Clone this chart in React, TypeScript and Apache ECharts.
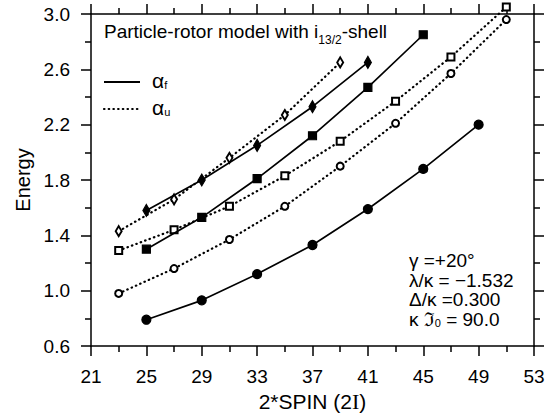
import React, { useEffect, useRef } from "react";
import * as echarts from "echarts";

const xCirclesSolid = [25, 29, 33, 37, 41, 45, 49];
const eCirclesSolid = [0.79, 0.93, 1.12, 1.33, 1.59, 1.88, 2.2];
const xSquaresSolid = [25, 29, 33, 37, 41, 45];
const eSquaresSolid = [1.3, 1.53, 1.81, 2.12, 2.47, 2.85];
const xDiamondsSolid = [25, 29, 33, 37, 41];
const eDiamondsSolid = [1.58, 1.8, 2.05, 2.33, 2.65];
const xDiamondsDotted = [23, 27, 31, 35, 39];
const eDiamondsDotted = [1.43, 1.66, 1.96, 2.27, 2.65];
const xSquaresDotted = [23, 27, 31, 35, 39, 43, 47, 51];
const eSquaresDotted = [1.29, 1.44, 1.61, 1.83, 2.08, 2.37, 2.69, 3.05];
const xCirclesDotted = [23, 27, 31, 35, 39, 43, 47, 51];
const eCirclesDotted = [0.98, 1.16, 1.37, 1.61, 1.9, 2.21, 2.57, 2.96];

const annotations = ["γ =+20°", "λ/κ = −1.532", "Δ/κ =0.300", "κ {f|ℑ}{s|0} = 90.0"];

const FONT = "'Liberation Sans', Arial, Helvetica, sans-serif";
const DOT = [0.5, 4.2];

const zip = (xs: number[], ys: number[]) => xs.map((x, i) => [x, ys[i]]);

export default function App() {
  const ref = useRef<HTMLDivElement>(null);
  useEffect(() => {
    if (!ref.current) return;
    const chart = echarts.init(ref.current, undefined, { renderer: "svg" });
    const solid = { color: "#000", width: 1.7, type: "solid" as const };
    const dotted = { color: "#000", width: 2.2, type: DOT, cap: "round" as const };
    const mk = (
      name: string,
      xs: number[],
      ys: number[],
      symbol: string,
      size: number | number[],
      ls: any,
      z: number
    ) => ({
      name,
      type: "line",
      data: zip(xs, ys),
      symbol,
      symbolSize: size,
      showSymbol: true,
      clip: false,
      z,
      lineStyle: ls,
      itemStyle: { color: "#000", borderColor: "#000", borderWidth: 1.2 },
      emphasis: { disabled: true },
    });
    const baseAxisLine = { show: true, lineStyle: { color: "#000", width: 1.5 } };
    const xCommon = {
      type: "value",
      min: 21,
      max: 53,
      interval: 4,
      axisLine: { ...baseAxisLine, onZero: false },
      axisTick: { show: true, inside: false, length: 10, lineStyle: { color: "#000", width: 1.5 } },
      minorTick: { show: true, splitNumber: 2, length: 6, lineStyle: { color: "#000", width: 1.5 } },
      splitLine: { show: false },
      minorSplitLine: { show: false },
    };
    const yCommon = {
      type: "value",
      min: 0.6,
      max: 3.0,
      interval: 0.4,
      axisLine: { ...baseAxisLine, onZero: false },
      axisTick: { show: true, inside: false, length: 10, lineStyle: { color: "#000", width: 1.5 } },
      minorTick: { show: true, splitNumber: 2, length: 6, lineStyle: { color: "#000", width: 1.5 } },
      splitLine: { show: false },
      minorSplitLine: { show: false },
    };
    chart.setOption({
      animation: false,
      backgroundColor: "#fff",
      grid: { left: 91, right: 25, top: 14, bottom: 74, containLabel: false },
      xAxis: [
        {
          ...xCommon,
          position: "bottom",
          axisLabel: { color: "#000", fontSize: 19, fontFamily: FONT, margin: 21 },
          name: "2*SPIN (2{s|I})",
          nameLocation: "middle",
          nameGap: 42,
          nameTextStyle: {
            color: "#000",
            fontSize: 21,
            fontFamily: FONT,
            rich: { s: { fontFamily: "'Liberation Serif', serif", fontSize: 22, color: "#000" } },
          },
        },
        { ...xCommon, position: "top", axisLabel: { show: false } },
      ],
      yAxis: [
        {
          ...yCommon,
          position: "left",
          axisLabel: {
            color: "#000",
            fontSize: 19,
            fontFamily: FONT,
            margin: 21,
            formatter: (v: number) => v.toFixed(1),
          },
          name: "Energy",
          nameLocation: "middle",
          nameGap: 57,
          nameTextStyle: { color: "#000", fontSize: 20, fontFamily: FONT },
        },
        { ...yCommon, position: "right", axisLabel: { show: false } },
      ],
      series: [
        mk("αf circles", xCirclesSolid, eCirclesSolid, "circle", 9, solid, 3),
        mk("αf squares", xSquaresSolid, eSquaresSolid, "rect", 8, solid, 3),
        mk("αf diamonds", xDiamondsSolid, eDiamondsSolid, "diamond", [7, 12], solid, 3),
        mk("αu diamonds", xDiamondsDotted, eDiamondsDotted, "emptyDiamond", [6, 10], dotted, 2),
        mk("αu squares", xSquaresDotted, eSquaresDotted, "emptyRect", 7, dotted, 2),
        mk("αu circles", xCirclesDotted, eCirclesDotted, "emptyCircle", 7, dotted, 2),
      ],
      graphic: [
        {
          type: "text",
          left: 104,
          top: 22,
          style: {
            text: "{a|Particle-rotor model with i}{s|13/2}{a|-shell}",
            fill: "#000",
            rich: {
              a: { fontSize: 19, fontFamily: FONT, fill: "#000", verticalAlign: "bottom", lineHeight: 24 },
              s: { fontSize: 12, fontFamily: FONT, fill: "#000", verticalAlign: "bottom", lineHeight: 16, padding: [0, 0, -5, 0] },
            },
          },
        },
        {
          type: "line",
          shape: { x1: 104, y1: 82, x2: 140, y2: 82 },
          style: { stroke: "#000", lineWidth: 2 },
        },
        {
          type: "line",
          shape: { x1: 104, y1: 109, x2: 140, y2: 109 },
          style: { stroke: "#000", lineWidth: 2.2, lineDash: DOT, lineCap: "round" },
        },
        {
          type: "text",
          left: 152,
          top: 70,
          style: {
            text: "{a|α}{s|f}",
            rich: {
              a: { fontSize: 21, fontFamily: FONT, fill: "#000" },
              s: { fontSize: 11, fontFamily: FONT, fill: "#000", padding: [9, 0, 0, 0] },
            },
          },
        },
        {
          type: "text",
          left: 152,
          top: 97,
          style: {
            text: "{a|α}{s|u}",
            rich: {
              a: { fontSize: 21, fontFamily: FONT, fill: "#000" },
              s: { fontSize: 11, fontFamily: FONT, fill: "#000", padding: [9, 0, 0, 0] },
            },
          },
        },
        ...annotations.map((t, i) => ({
          type: "text",
          left: 409,
          top: 251 + i * 19.6,
          style: {
            text: t,
            fill: "#000",
            fontSize: 19,
            fontFamily: FONT,
            rich: {
              f: { fontSize: 19, fontFamily: "'DejaVu Serif', serif", fill: "#000" },
              s: { fontSize: 11, fontFamily: FONT, fill: "#000", padding: [8, 0, 0, 0] },
            },
          },
        })),
      ],
    });
    return () => chart.dispose();
  }, []);
  return (
    <div
      ref={ref}
      style={{ position: "absolute", left: 0, top: 0, width: 559, height: 420 }}
    />
  );
}
